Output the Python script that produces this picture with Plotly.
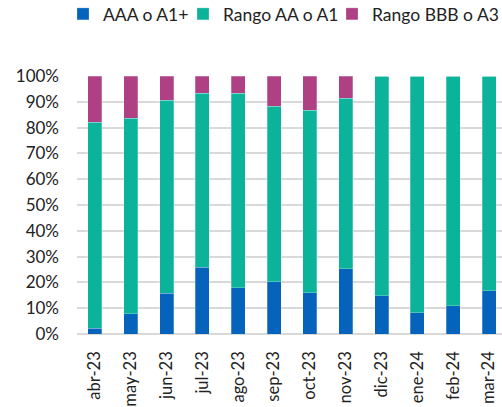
import plotly.graph_objects as go

months = ["abr-23", "may-23", "jun-23", "jul-23", "ago-23", "sep-23", "oct-23",
          "nov-23", "dic-23", "ene-24", "feb-24", "mar-24"]
aaa = [2.2, 7.9, 15.7, 25.9, 17.9, 20.3, 16.0, 25.2, 14.9, 8.3, 11.0, 16.8]
aa = [79.8, 75.7, 74.9, 67.5, 75.4, 67.9, 70.7, 66.1, 85.1, 91.7, 89.0, 83.2]
bbb = [18.0, 16.4, 9.4, 6.6, 6.7, 11.8, 13.3, 8.7, 0.0, 0.0, 0.0, 0.0]

names = ["AAA o A1+", "Rango AA o A1", "Rango BBB o A3"]
colors = ["#0563BB", "#0BB39A", "#AE4083"]
legend_ids = ["legend", "legend2", "legend3"]
legend_x = [63, 183, 332]  # pixel positions of legend entries

fig = go.Figure()
for name, vals, col, lg in zip(names, [aaa, aa, bbb], colors, legend_ids):
    fig.add_trace(go.Bar(x=months, y=[v / 100 for v in vals], name=name, legend=lg,
                         marker=dict(color=col, line=dict(color="rgba(255,255,255,0.5)", width=0.5))))

W, H = 502, 407
leg_common = dict(orientation="h", xref="container", yref="container", xanchor="left",
                  y=1 - 14 / H, yanchor="middle", font=dict(size=17.5), itemwidth=30,
                  bgcolor="rgba(0,0,0,0)", borderwidth=0)

fig.update_layout(
    barmode="stack",
    bargap=0.61,
    width=W, height=H,
    margin=dict(l=77, r=0, t=76, b=73, autoexpand=False),
    paper_bgcolor="white", plot_bgcolor="white",
    font=dict(family="Lato", size=16, color="#222222"),
    showlegend=True,
    legend=dict(x=legend_x[0] / W, **leg_common),
    legend2=dict(x=legend_x[1] / W, **leg_common),
    legend3=dict(x=legend_x[2] / W, **leg_common),
)
fig.update_xaxes(range=[-0.5, 11.36], tickangle=-90, tickfont=dict(size=16.5),
                 showgrid=False, showline=False, ticks="", ticklabelstandoff=13,
                 automargin=False)
fig.update_yaxes(range=[0, 1], tickformat=".0%", dtick=0.1, showgrid=True,
                 gridcolor="#D9D9D9", gridwidth=2, zeroline=True, zerolinecolor="#D9D9D9",
                 zerolinewidth=2, tickfont=dict(size=17), ticklabelstandoff=17,
                 automargin=False)

fig.write_html("out.html", config={"displayModeBar": False},
               post_script="document.body.style.margin='0';")
